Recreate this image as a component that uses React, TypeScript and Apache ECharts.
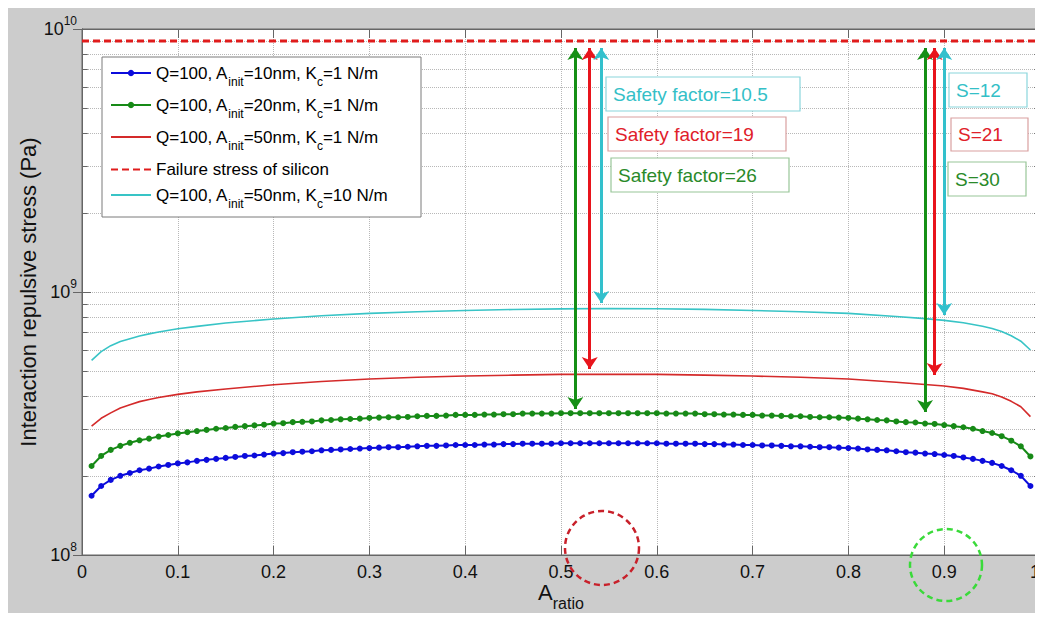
import React, { useEffect, useRef } from "react";
import * as echarts from "echarts";

// ---------- data ----------
const A_FINE = [
  0.01, 0.02, 0.03, 0.04, 0.05, 0.06, 0.07, 0.08, 0.09, 0.1,
  0.11, 0.12, 0.13, 0.14, 0.15, 0.16, 0.17, 0.18, 0.19, 0.2,
  0.21, 0.22, 0.23, 0.24, 0.25, 0.26, 0.27, 0.28, 0.29, 0.3,
  0.31, 0.32, 0.33, 0.34, 0.35, 0.36, 0.37, 0.38, 0.39, 0.4,
  0.41, 0.42, 0.43, 0.44, 0.45, 0.46, 0.47, 0.48, 0.49, 0.5,
  0.51, 0.52, 0.53, 0.54, 0.55, 0.56, 0.57, 0.58, 0.59, 0.6,
  0.61, 0.62, 0.63, 0.64, 0.65, 0.66, 0.67, 0.68, 0.69, 0.7,
  0.71, 0.72, 0.73, 0.74, 0.75, 0.76, 0.77, 0.78, 0.79, 0.8,
  0.81, 0.82, 0.83, 0.84, 0.85, 0.86, 0.87, 0.88, 0.89, 0.9,
  0.91, 0.92, 0.93, 0.94, 0.95, 0.96, 0.97, 0.98, 0.99,
];

// Q=100, Ainit=10nm, Kc=1 N/m  (units of 1e8 Pa)
const BLUE_1E8 = [
  1.68, 1.83, 1.93, 2.0, 2.05, 2.1, 2.13, 2.17, 2.2, 2.23,
  2.25, 2.28, 2.3, 2.32, 2.34, 2.36, 2.38, 2.39, 2.41, 2.43,
  2.44, 2.46, 2.47, 2.48, 2.5, 2.51, 2.52, 2.53, 2.54, 2.55,
  2.56, 2.57, 2.57, 2.58, 2.59, 2.6, 2.6, 2.61, 2.62, 2.62,
  2.62, 2.63, 2.63, 2.64, 2.64, 2.65, 2.65, 2.65, 2.65, 2.66,
  2.66, 2.66, 2.66, 2.66, 2.66, 2.66, 2.66, 2.66, 2.66, 2.66,
  2.65, 2.65, 2.65, 2.65, 2.64, 2.64, 2.63, 2.63, 2.62, 2.62,
  2.61, 2.61, 2.6, 2.59, 2.59, 2.58, 2.57, 2.57, 2.56, 2.55,
  2.54, 2.52, 2.51, 2.5, 2.48, 2.46, 2.45, 2.43, 2.42, 2.4,
  2.38, 2.35, 2.32, 2.28, 2.24, 2.18, 2.1, 2.0, 1.83,
];

// Q=100, Ainit=20nm, Kc=1 N/m  (units of 1e8 Pa)
const GREEN_1E8 = [
  2.18, 2.38, 2.51, 2.6, 2.67, 2.73, 2.77, 2.82, 2.86, 2.9,
  2.93, 2.96, 2.99, 3.02, 3.04, 3.07, 3.09, 3.11, 3.13, 3.16,
  3.17, 3.2, 3.21, 3.22, 3.25, 3.26, 3.28, 3.29, 3.3, 3.32,
  3.33, 3.34, 3.34, 3.35, 3.37, 3.38, 3.38, 3.39, 3.41, 3.41,
  3.41, 3.42, 3.42, 3.43, 3.43, 3.45, 3.45, 3.45, 3.45, 3.46,
  3.46, 3.46, 3.46, 3.46, 3.46, 3.46, 3.46, 3.46, 3.46, 3.46,
  3.45, 3.45, 3.45, 3.45, 3.43, 3.43, 3.42, 3.42, 3.41, 3.41,
  3.39, 3.39, 3.38, 3.37, 3.37, 3.35, 3.34, 3.34, 3.33, 3.32,
  3.3, 3.28, 3.26, 3.25, 3.22, 3.2, 3.19, 3.16, 3.15, 3.12,
  3.09, 3.06, 3.02, 2.96, 2.91, 2.83, 2.72, 2.59, 2.37,
];

const A_COARSE = [
  0.01, 0.02, 0.03, 0.04, 0.05, 0.06, 0.07, 0.08, 0.1, 0.12, 0.15,
  0.2, 0.25, 0.3, 0.35, 0.4, 0.45, 0.5, 0.55, 0.6, 0.65, 0.7, 0.75, 0.8, 0.85,
  0.88, 0.9, 0.92, 0.94, 0.95, 0.96, 0.97, 0.98, 0.99,
];

// Q=100, Ainit=50nm, Kc=1 N/m  (units of 1e8 Pa)
const RED_1E8 = [
  3.09, 3.31, 3.47, 3.62, 3.73, 3.83, 3.9, 3.97, 4.08, 4.17, 4.28,
  4.44, 4.57, 4.67, 4.74, 4.79, 4.83, 4.86, 4.87, 4.86, 4.83, 4.79, 4.74, 4.67, 4.54,
  4.45, 4.39, 4.3, 4.17, 4.1, 3.99, 3.84, 3.66, 3.36,
];

// Q=100, Ainit=50nm, Kc=10 N/m  (units of 1e8 Pa)
const CYAN_1E8 = [
  5.5, 5.93, 6.25, 6.48, 6.64, 6.8, 6.93, 7.05, 7.25, 7.4, 7.62,
  7.9, 8.12, 8.29, 8.41, 8.51, 8.58, 8.63, 8.65, 8.64, 8.59, 8.51, 8.41, 8.29, 8.07,
  7.92, 7.8, 7.64, 7.41, 7.26, 7.07, 6.82, 6.5, 6.02,
];

const FAILURE_STRESS = 9e9;
const X_RANGE = [0, 1];
const Y_RANGE = [1e8, 1e10];
const MINOR_Y = [2e8, 3e8, 4e8, 5e8, 6e8, 7e8, 8e8, 9e8, 2e9, 3e9, 4e9, 5e9, 6e9, 7e9, 8e9, 9e9];

// double arrows: A_ratio position, lower head value, upper head value
const ARROW_X_GREEN = [0.515, 0.88];
const ARROW_LO_GREEN = [3.59e8, 3.5e8];
const ARROW_X_RED = [0.53, 0.89];
const ARROW_LO_RED = [5.1e8, 4.84e8];
const ARROW_X_CYAN = [0.542, 0.9];
const ARROW_LO_CYAN = [9.08e8, 8.17e8];
const ARROW_HI = 8.47e9;

const SAFETY_TEXTS = ["Safety factor=10.5", "Safety factor=19", "Safety factor=26"];
const S_TEXTS = ["S=12", "S=21", "S=30"];

const NAME_BLUE = "Q=100, Ainit=10nm, Kc=1 N/m";
const NAME_GREEN = "Q=100, Ainit=20nm, Kc=1 N/m";
const NAME_RED = "Q=100, Ainit=50nm, Kc=1 N/m";
const NAME_FAIL = "Failure stress of silicon";
const NAME_CYAN = "Q=100, Ainit=50nm, Kc=10 N/m";

const LEGEND_RICH: Record<string, string> = {
  [NAME_BLUE]: "{m|Q=100, A}{s|init}{m|=10nm, K}{s|c}{m|=1 N/m}",
  [NAME_GREEN]: "{m|Q=100, A}{s|init}{m|=20nm, K}{s|c}{m|=1 N/m}",
  [NAME_RED]: "{m|Q=100, A}{s|init}{m|=50nm, K}{s|c}{m|=1 N/m}",
  [NAME_FAIL]: "{m|Failure stress of silicon}",
  [NAME_CYAN]: "{m|Q=100, A}{s|init}{m|=50nm, K}{s|c}{m|=10 N/m}",
};

// ---------- styles ----------
const FONT = "'Liberation Sans', Arial, Helvetica, sans-serif";
const C_BLUE = "#0c0cdc";
const C_GREEN = "#178a17";
const C_RED = "#d42a2a";
const C_FAIL = "#e01c1c";
const C_CYAN = "#38c4c6";
const C_ARROW_GREEN = "#168f16";
const C_ARROW_RED = "#e8141c";
const C_ARROW_CYAN = "#33c0cc";
const AXIS = "#666";
const GRIDC = "#b8b8b8";

function arrowPairs(xs: number[], los: number[]) {
  return xs.map((x, i) => [{ coord: [x, los[i]] }, { coord: [x, ARROW_HI] }]);
}

export default function App() {
  const ref = useRef<HTMLDivElement>(null);

  useEffect(() => {
    if (!ref.current) return;
    document.body.style.overflow = "hidden";
    const chart = echarts.init(ref.current, undefined, { renderer: "svg" });

    const tickStyle = { color: AXIS, width: 1, type: "solid" };
    const minorTicks: any[] = [];
    MINOR_Y.forEach((v) => {
      minorTicks.push([
        { coord: [0, v], lineStyle: tickStyle },
        { coord: [0.006, v], lineStyle: tickStyle },
      ]);
      minorTicks.push([
        { coord: [0.994, v], lineStyle: tickStyle },
        { coord: [1, v], lineStyle: tickStyle },
      ]);
    });
    const minorGrid = MINOR_Y.map((v) => ({ yAxis: v }));

    const arrowMark = (color: string, xs: number[], los: number[]) => ({
      silent: true,
      z: 6,
      animation: false,
      symbol: ["arrow", "arrow"],
      symbolSize: 12,
      label: { show: false },
      emphasis: { disabled: true },
      lineStyle: { color, width: 3, type: "solid" },
      data: arrowPairs(xs, los),
    });

    const legendTops = [50.5, 82.5, 114.5, 153, 172.5];
    const legendNames = [NAME_BLUE, NAME_GREEN, NAME_RED, NAME_FAIL, NAME_CYAN];
    const legendHasMarker = [true, true, false, false, false];

    const boxes = [
      { x: 598, y: 69, w: 194, h: 34, text: SAFETY_TEXTS[0], c: "#34bfc7", b: "#8ad6dc" },
      { x: 600, y: 109, w: 178, h: 34, text: SAFETY_TEXTS[1], c: "#e0202a", b: "#d9a0a0" },
      { x: 603, y: 150, w: 178, h: 34, text: SAFETY_TEXTS[2], c: "#2a8a2a", b: "#98c698" },
      { x: 941, y: 65, w: 78, h: 34, text: S_TEXTS[0], c: "#34bfc7", b: "#8ad6dc" },
      { x: 943, y: 110, w: 77, h: 33, text: S_TEXTS[1], c: "#e0202a", b: "#d9a0a0" },
      { x: 940, y: 154, w: 78, h: 34, text: S_TEXTS[2], c: "#2a8a2a", b: "#98c698" },
    ];

    const graphic: any[] = [
      {
        type: "rect",
        z: 3,
        shape: { x: 94, y: 49, width: 319, height: 160 },
        style: { fill: "#fff", stroke: "#7a7a7a", lineWidth: 1 },
        silent: true,
      },
      ...boxes.flatMap((bx) => [
        {
          type: "rect",
          z: 7,
          shape: { x: bx.x, y: bx.y, width: bx.w, height: bx.h },
          style: { fill: "#fff", stroke: bx.b, lineWidth: 1.2 },
          silent: true,
        },
        {
          type: "text",
          z: 8,
          x: bx.x + 7,
          y: bx.y + bx.h / 2,
          style: {
            text: bx.text,
            fill: bx.c,
            font: `19px ${FONT}`,
            align: "left",
            verticalAlign: "middle",
          },
          silent: true,
        },
      ]),
      {
        type: "circle",
        z: 9,
        shape: { cx: 594, cy: 540, r: 37 },
        style: { fill: "none", stroke: "#c8202a", lineWidth: 2.5, lineDash: [6, 4] },
        silent: true,
      },
      {
        type: "circle",
        z: 9,
        shape: { cx: 938, cy: 557, r: 36 },
        style: { fill: "none", stroke: "#3ada3a", lineWidth: 2.5, lineDash: [6, 4] },
        silent: true,
      },
    ];

    const option: any = {
      animation: false,
      backgroundColor: "#cccccc",
      textStyle: { fontFamily: FONT },
      grid: {
        left: 74,
        top: 21,
        right: 3,
        bottom: 58,
        show: true,
        backgroundColor: "#fff",
        borderColor: AXIS,
        borderWidth: 1,
        containLabel: false,
        outerBoundsMode: "none",
      },
      legend: legendNames.map((name, i) => ({
        data: [name],
        left: 102,
        top: legendTops[i],
        orient: "vertical",
        padding: 0,
        itemWidth: 40,
        itemHeight: 8,
        selectedMode: false,
        z: 5,
        itemStyle: legendHasMarker[i] ? {} : { opacity: 0 },
        formatter: (n: string) => LEGEND_RICH[n],
        textStyle: {
          color: "#000",
          fontFamily: FONT,
          rich: {
            m: { fontSize: 17, lineHeight: 20, fontFamily: FONT, color: "#000" },
            s: { fontSize: 12, lineHeight: 12, padding: [17, 0, 0, 0], fontFamily: FONT, color: "#000" },
          },
        },
      })),
      xAxis: [
        {
          type: "value",
          min: X_RANGE[0],
          max: X_RANGE[1],
          interval: 0.1,
          position: "bottom",
          axisLine: { show: true, lineStyle: { color: AXIS } },
          axisTick: { show: true, inside: true, length: 9, lineStyle: { color: AXIS } },
          axisLabel: {
            fontSize: 18,
            margin: 8,
            color: "#111",
            fontFamily: FONT,
            alignMaxLabel: "right",
            showMaxLabel: true,
          },
          splitLine: { show: true, lineStyle: { type: "dotted", color: GRIDC } },
          name: "{a|A}{r|ratio}",
          nameLocation: "middle",
          nameGap: 25,
          nameMoveOverlap: false,
          nameTextStyle: {
            rich: {
              a: { fontSize: 22, lineHeight: 24, color: "#111", fontFamily: FONT },
              r: { fontSize: 16, lineHeight: 15, padding: [22, 0, 0, 0], color: "#111", fontFamily: FONT },
            },
          },
        },
        {
          type: "value",
          min: X_RANGE[0],
          max: X_RANGE[1],
          interval: 0.1,
          position: "top",
          axisLine: { show: true, lineStyle: { color: AXIS } },
          axisTick: { show: true, inside: true, length: 9, lineStyle: { color: AXIS } },
          axisLabel: { show: false },
          splitLine: { show: false },
        },
      ],
      yAxis: [
        {
          type: "log",
          logBase: 10,
          min: Y_RANGE[0],
          max: Y_RANGE[1],
          position: "left",
          axisLine: { show: true, lineStyle: { color: AXIS } },
          axisTick: { show: true, inside: true, length: 9, lineStyle: { color: AXIS } },
          axisLabel: {
            margin: 5,
            formatter: (v: number) => `{b|10}{p|${Math.round(Math.log10(v))}}`,
            rich: {
              b: { fontSize: 18, lineHeight: 18, color: "#111", fontFamily: FONT },
              p: { fontSize: 12, lineHeight: 12, padding: [0, 0, 16, 0], color: "#111", fontFamily: FONT },
            },
          },
          splitLine: { show: true, lineStyle: { type: "dotted", color: GRIDC } },
          name: "Interaction repulsive stress (Pa)",
          nameLocation: "middle",
          nameGap: 43,
          nameMoveOverlap: false,
          nameTextStyle: { fontSize: 22, color: "#111", fontFamily: FONT },
        },
        {
          type: "log",
          logBase: 10,
          min: Y_RANGE[0],
          max: Y_RANGE[1],
          position: "right",
          axisLine: { show: true, lineStyle: { color: AXIS } },
          axisTick: { show: true, inside: true, length: 9, lineStyle: { color: AXIS } },
          axisLabel: { show: false },
          splitLine: { show: false },
        },
      ],
      series: [
        {
          type: "line",
          name: "__grid",
          data: [],
          silent: true,
          z: 1,
          markLine: {
            silent: true,
            z: 1,
            animation: false,
            symbol: "none",
            label: { show: false },
            emphasis: { disabled: true },
            lineStyle: { type: "dotted", color: GRIDC, width: 1 },
            data: [...minorGrid, ...minorTicks],
          },
        },
        {
          type: "line",
          name: NAME_BLUE,
          data: A_FINE.map((a, i) => [a, BLUE_1E8[i] * 1e8]),
          symbol: "circle",
          symbolSize: 6,
          showSymbol: true,
          itemStyle: { color: C_BLUE },
          lineStyle: { color: C_BLUE, width: 2 },
          silent: true,
          z: 3,
        },
        {
          type: "line",
          name: NAME_GREEN,
          data: A_FINE.map((a, i) => [a, GREEN_1E8[i] * 1e8]),
          symbol: "circle",
          symbolSize: 6,
          showSymbol: true,
          itemStyle: { color: C_GREEN },
          lineStyle: { color: C_GREEN, width: 2 },
          silent: true,
          z: 3,
          markLine: arrowMark(C_ARROW_GREEN, ARROW_X_GREEN, ARROW_LO_GREEN),
        },
        {
          type: "line",
          name: NAME_RED,
          data: A_COARSE.map((a, i) => [a, RED_1E8[i] * 1e8]),
          symbol: "none",
          itemStyle: { color: C_RED },
          lineStyle: { color: C_RED, width: 1.6 },
          silent: true,
          z: 3,
          markLine: arrowMark(C_ARROW_RED, ARROW_X_RED, ARROW_LO_RED),
        },
        {
          type: "line",
          name: NAME_FAIL,
          data: [
            [X_RANGE[0], FAILURE_STRESS],
            [X_RANGE[1], FAILURE_STRESS],
          ],
          symbol: "none",
          itemStyle: { color: C_FAIL },
          lineStyle: { color: C_FAIL, width: 3, type: [7, 4] },
          silent: true,
          z: 3,
        },
        {
          type: "line",
          name: NAME_CYAN,
          data: A_COARSE.map((a, i) => [a, CYAN_1E8[i] * 1e8]),
          symbol: "none",
          itemStyle: { color: C_CYAN },
          lineStyle: { color: C_CYAN, width: 1.6 },
          silent: true,
          z: 3,
          markLine: arrowMark(C_ARROW_CYAN, ARROW_X_CYAN, ARROW_LO_CYAN),
        },
      ],
      graphic,
    };

    chart.setOption(option);
    return () => chart.dispose();
  }, []);

  return <div ref={ref} style={{ width: 1035, height: 605 }} />;
}
